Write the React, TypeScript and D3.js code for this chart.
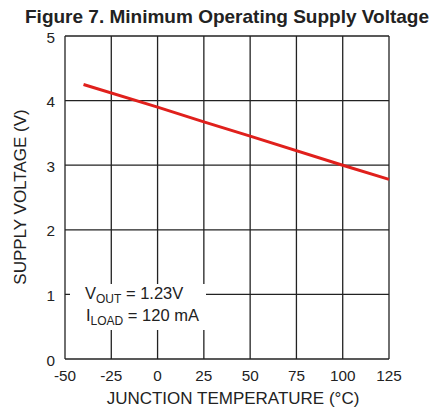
import React, { useRef, useEffect } from 'react';
import * as d3 from 'd3';

const temps = [-40, 0, 25, 50, 100, 125];
const volts = [4.25, 3.9, 3.67, 3.45, 3.0, 2.78];
const xTicks = [-50, -25, 0, 25, 50, 75, 100, 125];
const yTicks = [0, 1, 2, 3, 4, 5];

const W = 438;
const H = 407;
const margin = { left: 65, right: 49, top: 36, bottom: 48 };
const FONT = 'Arial, "Liberation Sans", sans-serif';

const App: React.FC = () => {
  const ref = useRef<SVGSVGElement>(null);

  useEffect(() => {
    const svg = d3.select(ref.current);
    svg.selectAll('*').remove();

    const x = d3.scaleLinear().domain([-50, 125]).range([margin.left, W - margin.right]);
    const y = d3.scaleLinear().domain([0, 5]).range([H - margin.bottom, margin.top]);

    // grid
    const grid = svg.append('g').attr('stroke', '#222').attr('stroke-width', 1.3);
    grid
      .selectAll('line.v')
      .data(xTicks)
      .enter()
      .append('line')
      .attr('x1', (d) => x(d))
      .attr('x2', (d) => x(d))
      .attr('y1', y(0))
      .attr('y2', y(5));
    grid
      .selectAll('line.h')
      .data(yTicks)
      .enter()
      .append('line')
      .attr('x1', x(-50))
      .attr('x2', x(125))
      .attr('y1', (d) => y(d))
      .attr('y2', (d) => y(d));

    // legend box (covers grid)
    svg
      .append('rect')
      .attr('x', 70)
      .attr('y', 284)
      .attr('width', 136)
      .attr('height', 46)
      .attr('fill', '#fff');

    const leg = svg.append('g').attr('font-family', FONT).attr('font-size', 16.5).attr('fill', '#222');
    const t1 = leg.append('text').attr('x', 85).attr('y', 299);
    t1.append('tspan').text('V');
    t1.append('tspan').attr('font-size', 12).attr('dy', 4).text('OUT');
    t1.append('tspan').attr('dy', -4).text(' = 1.23V');
    const t2 = leg.append('text').attr('x', 86).attr('y', 321);
    t2.append('tspan').text('I');
    t2.append('tspan').attr('font-size', 12).attr('dy', 4).text('LOAD');
    t2.append('tspan').attr('dy', -4).text(' = 120 mA');

    // data line
    const line = d3
      .line<number>()
      .x((d, i) => x(temps[i]))
      .y((d) => y(d));
    svg
      .append('path')
      .attr('d', line(volts))
      .attr('fill', 'none')
      .attr('stroke', '#e0201c')
      .attr('stroke-width', 3);

    // tick labels
    const labels = svg.append('g').attr('font-family', FONT).attr('font-size', 15.3).attr('fill', '#222');
    labels
      .selectAll('text.x')
      .data(xTicks)
      .enter()
      .append('text')
      .attr('x', (d) => x(d))
      .attr('y', H - margin.bottom + 21.5)
      .attr('text-anchor', 'middle')
      .text((d) => d);
    labels
      .selectAll('text.y')
      .data(yTicks)
      .enter()
      .append('text')
      .attr('x', margin.left - 10)
      .attr('y', (d) => y(d) + 6.5)
      .attr('text-anchor', 'end')
      .text((d) => d);

    // axis titles
    const titles = svg.append('g').attr('font-family', FONT).attr('font-size', 17).attr('fill', '#222');
    titles
      .append('text')
      .attr('x', 233)
      .attr('y', 404)
      .attr('text-anchor', 'middle')
      .text('JUNCTION TEMPERATURE (°C)');
    titles
      .append('text')
      .attr('transform', `translate(26, 197) rotate(-90)`)
      .attr('text-anchor', 'middle')
      .text('SUPPLY VOLTAGE (V)');

    // title
    svg
      .append('text')
      .attr('x', 227)
      .attr('y', 23.3)
      .attr('text-anchor', 'middle')
      .attr('font-family', FONT)
      .attr('font-weight', 'bold')
      .attr('font-size', 19)
      .attr('fill', '#222')
      .text('Figure 7. Minimum Operating Supply Voltage');
  }, []);

  return (
    <svg
      ref={ref}
      width={W}
      height={H}
      style={{ position: 'absolute', left: 0, top: 0, background: '#fff' }}
    />
  );
};

export default App;
